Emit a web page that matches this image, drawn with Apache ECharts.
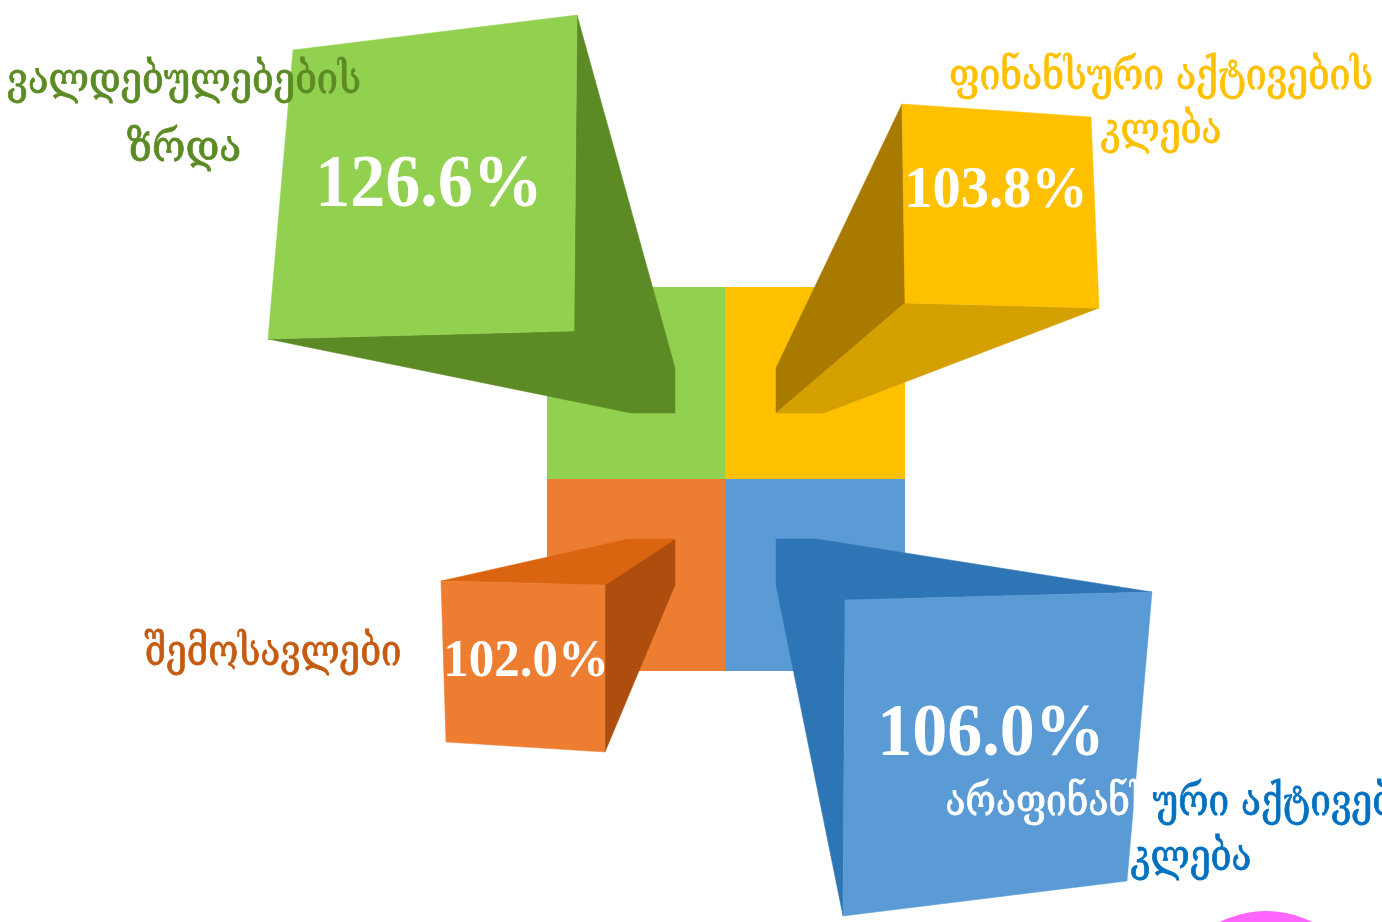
<!DOCTYPE html>
<html><head><meta charset="utf-8">
<style>html,body{margin:0;padding:0;background:#fff}#c{width:1382px;height:922px}</style>
<script src="https://cdn.jsdelivr.net/npm/echarts@6/dist/echarts.min.js"></script></head>
<body><div id="c"></div>
<script>
// ---- data ----
const categories = ['ვალდებულებების ზრდა','ფინანსური აქტივების კლება','შემოსავლები','არაფინანსური აქტივების კლება'];
const values = [126.6, 103.8, 102.0, 106.0];
const labelLines = [['ვალდებულებების','ზრდა'],['ფინანსური აქტივების','კლება'],['შემოსავლები'],['არაფინანსური აქტივების','კლება']];
// ---- geometry (drawn in the hidden axes' units) ----
const tiles = [[547,287,725,479],[725,287,905,479],[547,479,725,671],[725,479,905,671]];
const fronts = [
 [[293,50],[577,15],[574,331],[268,339]],
 [[902,104],[1091,117],[1099,308],[905,303]],
 [[441,581],[605,585],[605,752],[446,742]],
 [[845,600],[1152,592],[1127,881],[843,916]]];
const sideA = [
 [[577,15],[675,368],[675,413],[574,331]],
 [[902,104],[776,368],[776,413],[905,303]],
 [[605,585],[675,539],[675,585],[605,752]],
 [[776,539],[845,600],[843,916],[776,585]]];
const sideB = [
 [[268,339],[574,331],[675,413],[631,413]],
 [[905,303],[1099,308],[824,413],[776,413]],
 [[441,581],[605,585],[675,539],[628,539]],
 [[776,539],[817,539],[1152,592],[845,600]]];
const faceCol = ['#92D14F','#FFC000','#ED7D31','#5B9BD5'];
const sideACol = ['#5C8A24','#A87B00','#AD4E0E','#2E75B6'];
const sideBCol = ['#5C8A24','#D4A000','#DB6411','#2E75B6'];
const labelCol = ['#5C8A24','#FFC000','#C55A11','#0070C0'];
const pctPos = [[429,187,70],[996,192,56.5],[526,662,51],[991,736,70]];
const pctScaleY = 1.05;
const labelPos = [[[184,82],[184,150]],[[1161,78],[1161,132]],[[273,654]],[[1191,804],[1191,859]]];
const labelScaleX = [[1,1.07],[0.98,0.97],[0.962],[0.972,0.97]];
const labelFont = 38, labelScaleY = 1.14;
const whiteSplitX = 1151;   // the blue label turns white left of this line
const circle = [1266,1013,102];

const chart = echarts.init(document.getElementById('c'));
function poly(api,pts,fill){
  return {type:'polygon',shape:{points:pts.map(p=>api.coord(p))},style:{fill:fill,stroke:fill,lineWidth:0.5}};
}
const geoFont = "'DejaVu Serif','DejaVu Sans',serif";
function lineText(c,sx,line,fill,clip){
  const el={type:'text',x:c[0],y:c[1],scaleX:sx,scaleY:labelScaleY,style:{text:line,x:0,y:0,fill:fill,stroke:fill,lineWidth:0.7,
    font:labelFont+'px '+geoFont,align:'center',verticalAlign:'middle'}};
  if(clip) el.clipPath={type:'rect',shape:clip};
  return el;
}
chart.setOption({
  animation:false,
  backgroundColor:'#fff',
  grid:{left:0,right:0,top:0,bottom:0},
  xAxis:{type:'value',min:0,max:1382,show:false},
  yAxis:{type:'value',min:0,max:922,inverse:true,show:false},
  series:[
   {type:'custom',clip:false,z:1,silent:true,data:[0,1,2,3],encode:{x:0,y:0},
    renderItem(params,api){
      const t=tiles[params.dataIndex];const a=api.coord([t[0],t[1]]),b=api.coord([t[2],t[3]]);
      return {type:'rect',shape:{x:a[0],y:a[1],width:b[0]-a[0],height:b[1]-a[1]},style:{fill:faceCol[params.dataIndex]}};
    }},
   {type:'custom',clip:false,z:2,silent:true,data:[0],encode:{x:0,y:0},
    renderItem(params,api){
      const c=api.coord([circle[0],circle[1]]);
      return {type:'circle',shape:{cx:c[0],cy:c[1],r:circle[2]},style:{fill:'#FF66FF'}};
    }},
   {type:'custom',clip:false,z:3,silent:true,data:values,encode:{x:0,y:0},
    renderItem(params,api){
      const i=params.dataIndex;
      return {type:'group',children:[
        poly(api,sideA[i],sideACol[i]),poly(api,sideB[i],sideBCol[i]),poly(api,fronts[i],faceCol[i])]};
    }},
   {type:'custom',clip:false,z:4,silent:true,data:values,encode:{x:0,y:0},
    renderItem(params,api){
      const i=params.dataIndex,p=pctPos[i],c=api.coord([p[0],p[1]]);
      return {type:'text',x:c[0],y:c[1],scaleY:pctScaleY,style:{text:api.value(0).toFixed(1)+'%',x:0,y:0,fill:'#fff',
        font:'bold '+p[2]+"px 'Liberation Serif'",align:'center',verticalAlign:'middle'}};
    }},
   {type:'custom',clip:false,z:5,silent:true,data:categories.map((c,i)=>i),encode:{x:0,y:0},
    renderItem(params,api){
      const i=params.dataIndex;
      const kids=[];
      labelLines[i].forEach((line,j)=>{
        const c=api.coord(labelPos[i][j]),sx=labelScaleX[i][j];
        if(i===3&&j===0){
          const edge=(api.coord([whiteSplitX,0])[0]-c[0])/sx;
          kids.push(lineText(c,sx,line,'#fff',{x:-1000,y:-100,width:1000+edge,height:200}));
          kids.push(lineText(c,sx,line,labelCol[i],{x:edge,y:-100,width:1000,height:200}));
        } else kids.push(lineText(c,sx,line,labelCol[i]));
      });
      return {type:'group',children:kids};
    }}
  ]
});
</script></body></html>
